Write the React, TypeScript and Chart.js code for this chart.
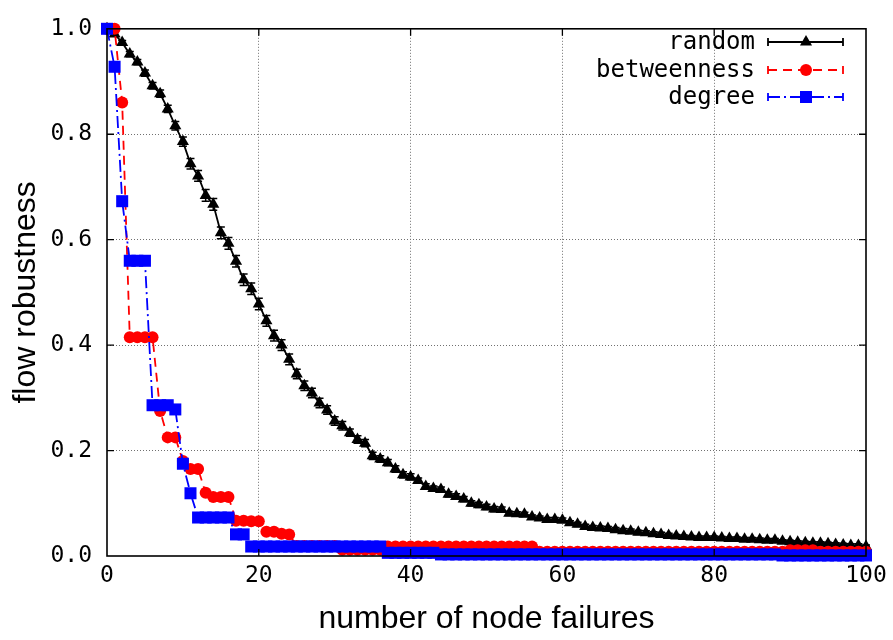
import React, { useEffect, useRef } from 'react';
import { Chart, registerables } from 'chart.js';

Chart.register(...registerables);

const failures = [
  0, 1, 2, 3, 4, 5, 6, 7, 8, 9, 10, 11, 12, 13, 14, 15, 16, 17, 18, 19, 20,
  21, 22, 23, 24, 25, 26, 27, 28, 29, 30, 31, 32, 33, 34, 35, 36, 37, 38, 39, 40,
  41, 42, 43, 44, 45, 46, 47, 48, 49, 50, 51, 52, 53, 54, 55, 56, 57, 58, 59, 60,
  61, 62, 63, 64, 65, 66, 67, 68, 69, 70, 71, 72, 73, 74, 75, 76, 77, 78, 79, 80,
  81, 82, 83, 84, 85, 86, 87, 88, 89, 90, 91, 92, 93, 94, 95, 96, 97, 98, 99, 100,
];

const randomRobustness = [
  1.0, 0.99, 0.974, 0.952, 0.937, 0.916, 0.892, 0.877, 0.848, 0.816,
  0.786, 0.744, 0.721, 0.684, 0.667, 0.613, 0.593, 0.559, 0.524, 0.507,
  0.478, 0.446, 0.418, 0.4, 0.373, 0.345, 0.323, 0.309, 0.29, 0.277,
  0.256, 0.247, 0.234, 0.221, 0.214, 0.19, 0.184, 0.177, 0.165, 0.154,
  0.15, 0.143, 0.132, 0.128, 0.126, 0.117, 0.113, 0.108, 0.1, 0.097,
  0.093, 0.089, 0.088, 0.081, 0.08, 0.079, 0.074, 0.072, 0.069, 0.069,
  0.068, 0.063, 0.06, 0.056, 0.054, 0.053, 0.052, 0.05, 0.048, 0.047,
  0.045, 0.044, 0.042, 0.041, 0.039, 0.038, 0.037, 0.036, 0.035, 0.035,
  0.035, 0.034, 0.033, 0.033, 0.032, 0.032, 0.031, 0.03, 0.03, 0.028,
  0.027, 0.026, 0.025, 0.024, 0.024, 0.023, 0.022, 0.021, 0.02, 0.02,
  0.018,
];

const randomError = [
  0.0, 0.003, 0.004, 0.005, 0.005, 0.006, 0.006, 0.007, 0.007, 0.008,
  0.009, 0.01, 0.01, 0.011, 0.011, 0.011, 0.011, 0.011, 0.011, 0.011,
  0.011, 0.01, 0.01, 0.01, 0.01, 0.009, 0.009, 0.009, 0.009, 0.008,
  0.008, 0.008, 0.007, 0.007, 0.007, 0.007, 0.006, 0.006, 0.006, 0.006,
  0.006, 0.005, 0.005, 0.005, 0.005, 0.005, 0.005, 0.005, 0.005, 0.005,
  0.005, 0.005, 0.005, 0.004, 0.004, 0.004, 0.004, 0.004, 0.004, 0.004,
  0.004, 0.004, 0.004, 0.004, 0.004, 0.004, 0.004, 0.004, 0.004, 0.004,
  0.004, 0.004, 0.004, 0.004, 0.004, 0.003, 0.003, 0.003, 0.003, 0.003,
  0.003, 0.003, 0.003, 0.003, 0.003, 0.003, 0.003, 0.003, 0.003, 0.003,
  0.003, 0.003, 0.003, 0.003, 0.003, 0.003, 0.003, 0.003, 0.003, 0.003,
  0.003,
];

const betweennessRobustness = [
  1.0, 1.0, 0.86, 0.415, 0.415, 0.415, 0.415, 0.275, 0.225, 0.225,
  0.18, 0.165, 0.165, 0.12, 0.112, 0.112, 0.112, 0.067, 0.067, 0.066,
  0.066, 0.046, 0.046, 0.042, 0.041, 0.019, 0.019, 0.019, 0.019, 0.019,
  0.019, 0.012, 0.012, 0.012, 0.012, 0.012, 0.012, 0.018, 0.018, 0.018,
  0.018, 0.018, 0.018, 0.018, 0.018, 0.018, 0.018, 0.018, 0.018, 0.018,
  0.018, 0.018, 0.018, 0.018, 0.018, 0.018, 0.018, 0.008, 0.008, 0.008,
  0.008, 0.008, 0.008, 0.008, 0.008, 0.008, 0.008, 0.008, 0.008, 0.008,
  0.008, 0.008, 0.008, 0.008, 0.008, 0.008, 0.008, 0.008, 0.008, 0.008,
  0.008, 0.008, 0.008, 0.008, 0.008, 0.008, 0.008, 0.008, 0.008, 0.008,
  0.011, 0.011, 0.011, 0.011, 0.008, 0.008, 0.008, 0.008, 0.008, 0.008,
  0.008,
];

const degreeRobustness = [
  1.0, 0.928, 0.673, 0.56, 0.56, 0.56, 0.286, 0.286, 0.286, 0.278,
  0.175, 0.119, 0.073, 0.073, 0.073, 0.073, 0.073, 0.041, 0.041, 0.018,
  0.018, 0.018, 0.018, 0.018, 0.018, 0.018, 0.018, 0.018, 0.018, 0.018,
  0.018, 0.018, 0.018, 0.018, 0.018, 0.018, 0.018, 0.006, 0.006, 0.006,
  0.006, 0.006, 0.006, 0.006, 0.003, 0.003, 0.003, 0.003, 0.003, 0.003,
  0.003, 0.003, 0.003, 0.003, 0.003, 0.003, 0.003, 0.003, 0.003, 0.003,
  0.003, 0.003, 0.003, 0.003, 0.003, 0.003, 0.003, 0.003, 0.003, 0.003,
  0.003, 0.003, 0.003, 0.003, 0.003, 0.003, 0.003, 0.003, 0.003, 0.003,
  0.003, 0.003, 0.003, 0.003, 0.003, 0.003, 0.003, 0.003, 0.003, 0.001,
  0.001, 0.001, 0.001, 0.001, 0.001, 0.001, 0.001, 0.001, 0.001, 0.001,
  0.001,
];

const seriesNames = ['random', 'betweenness', 'degree'];
const xTickStep = 20;
const yTickStep = 0.2;

const MONO = '"DejaVu Sans Mono", monospace';
const SANS = '"Liberation Sans", Arial, sans-serif';

const RED_DASH = [9, 6];
const BLUE_DASH = [12, 4, 2, 4];
const LINE_W = 1.8;
const TRI_R = 7;

function drawMarker(ctx: CanvasRenderingContext2D, kind: string, x: number, y: number, color: string) {
  ctx.save();
  ctx.setLineDash([]);
  ctx.fillStyle = color;
  ctx.beginPath();
  if (kind === 'triangle') {
    const r = TRI_R;
    ctx.moveTo(x, y - r);
    ctx.lineTo(x + r * 0.866, y + r * 0.5);
    ctx.lineTo(x - r * 0.866, y + r * 0.5);
    ctx.closePath();
  } else if (kind === 'circle') {
    ctx.arc(x, y, 6, 0, Math.PI * 2);
  } else {
    ctx.rect(x - 6, y - 6, 12, 12);
  }
  ctx.fill();
  ctx.restore();
}

const frameAndErrorPlugin = {
  id: 'frameAndError',
  afterDatasetDraw(chart: any, args: any) {
    if (args.index !== 0) return;
    const ctx = chart.ctx;
    const xs = chart.scales.x;
    const ys = chart.scales.y;
    ctx.save();
    ctx.strokeStyle = '#000';
    ctx.lineWidth = 1.5;
    ctx.setLineDash([]);
    for (let i = 0; i < failures.length; i++) {
      const e = randomError[i];
      if (!e) continue;
      const px = xs.getPixelForValue(failures[i]);
      const y1 = ys.getPixelForValue(randomRobustness[i] - e);
      const y2 = ys.getPixelForValue(randomRobustness[i] + e);
      ctx.beginPath();
      ctx.moveTo(px, y1);
      ctx.lineTo(px, y2);
      ctx.moveTo(px - 4, y1);
      ctx.lineTo(px + 4, y1);
      ctx.moveTo(px - 4, y2);
      ctx.lineTo(px + 4, y2);
      ctx.stroke();
    }
    ctx.restore();
  },
  afterDatasetsDraw(chart: any) {
    const ctx = chart.ctx;
    const { left, right, top, bottom } = chart.chartArea;
    const xs = chart.scales.x;
    const ys = chart.scales.y;
    ctx.save();
    ctx.strokeStyle = '#000';
    ctx.setLineDash([]);
    ctx.lineWidth = 1.6;
    ctx.strokeRect(left, top, right - left, bottom - top);
    ctx.lineWidth = 1.3;
    const tl = 7;
    ctx.beginPath();
    xs.ticks.forEach((t: any) => {
      const px = xs.getPixelForValue(t.value);
      if (Math.abs(px - left) < 1 || Math.abs(px - right) < 1) return;
      ctx.moveTo(px, bottom);
      ctx.lineTo(px, bottom - tl);
      ctx.moveTo(px, top);
      ctx.lineTo(px, top + tl);
    });
    ys.ticks.forEach((t: any) => {
      const py = ys.getPixelForValue(t.value);
      if (Math.abs(py - top) < 1 || Math.abs(py - bottom) < 1) return;
      ctx.moveTo(left, py);
      ctx.lineTo(left + tl, py);
      ctx.moveTo(right, py);
      ctx.lineTo(right - tl, py);
    });
    ctx.stroke();
    ctx.restore();
  },
  afterDraw(chart: any) {
    const ctx = chart.ctx;
    const entries = [
      { name: seriesNames[0], color: '#000000', dash: [] as number[], marker: 'triangle' },
      { name: seriesNames[1], color: '#ff0000', dash: RED_DASH, marker: 'circle' },
      { name: seriesNames[2], color: '#0000ff', dash: BLUE_DASH, marker: 'square' },
    ];
    const textRight = 755;
    const x1 = 768;
    const x2 = 843;
    const mx = 806;
    const rows = [42, 70, 97];
    ctx.save();
    ctx.font = `24px ${MONO}`;
    ctx.textAlign = 'right';
    ctx.textBaseline = 'middle';
    entries.forEach((e, i) => {
      const y = rows[i];
      ctx.fillStyle = '#000';
      ctx.fillText(e.name, textRight, y + 1);
      ctx.strokeStyle = e.color;
      ctx.lineWidth = LINE_W;
      ctx.setLineDash(e.dash);
      ctx.beginPath();
      ctx.moveTo(x1, y);
      ctx.lineTo(x2, y);
      ctx.stroke();
      ctx.setLineDash([]);
      ctx.beginPath();
      ctx.moveTo(x1, y - 4);
      ctx.lineTo(x1, y + 4);
      ctx.moveTo(x2, y - 4);
      ctx.lineTo(x2, y + 4);
      ctx.stroke();
      drawMarker(ctx, e.marker, mx, y, e.color);
    });
    ctx.restore();
  },
};

const gridColor = (edgeA: number, edgeB: number) => (c: any) => {
  const v = c.tick ? c.tick.value : null;
  if (v === null || Math.abs(v - edgeA) < 1e-6 || Math.abs(v - edgeB) < 1e-6) return 'rgba(0,0,0,0)';
  return '#707070';
};

export default function App() {
  const canvasRef = useRef<HTMLCanvasElement | null>(null);

  useEffect(() => {
    if (!canvasRef.current) return;
    const chart = new Chart(canvasRef.current, {
      type: 'line',
      data: {
        labels: failures,
        datasets: [
          {
            label: seriesNames[0],
            data: randomRobustness,
            borderColor: '#000000',
            backgroundColor: '#000000',
            borderWidth: LINE_W,
            pointStyle: 'triangle',
            pointRadius: TRI_R,
            pointBorderWidth: 0,
            pointBackgroundColor: '#000000',
            order: 2,
            clip: false,
          },
          {
            label: seriesNames[1],
            data: betweennessRobustness,
            borderColor: '#ff0000',
            backgroundColor: '#ff0000',
            borderWidth: LINE_W,
            borderDash: RED_DASH,
            pointStyle: 'circle',
            pointRadius: 6,
            pointBorderWidth: 0,
            pointBackgroundColor: '#ff0000',
            order: 1,
            clip: false,
          },
          {
            label: seriesNames[2],
            data: degreeRobustness,
            borderColor: '#0000ff',
            backgroundColor: '#0000ff',
            borderWidth: LINE_W,
            borderDash: BLUE_DASH,
            pointStyle: 'rect',
            pointRadius: 8.5,
            pointBorderWidth: 0,
            pointBackgroundColor: '#0000ff',
            order: 0,
            clip: false,
          },
        ],
      },
      options: {
        animation: false,
        responsive: true,
        maintainAspectRatio: false,
        layout: { padding: { top: 18, right: 27, left: 0, bottom: 0 } },
        plugins: { legend: { display: false }, tooltip: { enabled: false } },
        elements: { line: { tension: 0 } },
        scales: {
          x: {
            type: 'linear',
            min: 0,
            max: 100,
            afterFit: (s: any) => { s.height = 84; },
            ticks: {
              stepSize: xTickStep,
              color: '#000',
              font: { family: MONO, size: 23 },
              padding: 6,
              maxRotation: 0,
              callback: (v: any) => String(Math.round(Number(v))),
            },
            grid: { color: gridColor(0, 100), lineWidth: 1, drawTicks: false },
            border: { display: false, dash: [1, 2] },
            title: {
              display: true,
              text: 'number of node failures',
              color: '#000',
              font: { family: SANS, size: 32 },
              padding: { top: 0, bottom: 2 },
            },
          },
          y: {
            type: 'linear',
            min: 0,
            max: 1,
            afterFit: (s: any) => { s.width = 107; },
            ticks: {
              stepSize: yTickStep,
              color: '#000',
              font: { family: MONO, size: 23 },
              padding: 15,
              callback: (v: any) => Number(v).toFixed(1),
            },
            grid: { color: gridColor(0, 1), lineWidth: 1, drawTicks: false },
            border: { display: false, dash: [1, 2] },
            title: {
              display: true,
              text: 'flow robustness',
              color: '#000',
              font: { family: SANS, size: 32 },
              padding: { top: 7, bottom: 0 },
            },
          },
        },
      },
      plugins: [frameAndErrorPlugin],
    } as any);
    return () => chart.destroy();
  }, []);

  return (
    <div style={{ position: 'absolute', left: 0, top: 0, width: 893, height: 640, background: '#fff' }}>
      <canvas ref={canvasRef} />
    </div>
  );
}
